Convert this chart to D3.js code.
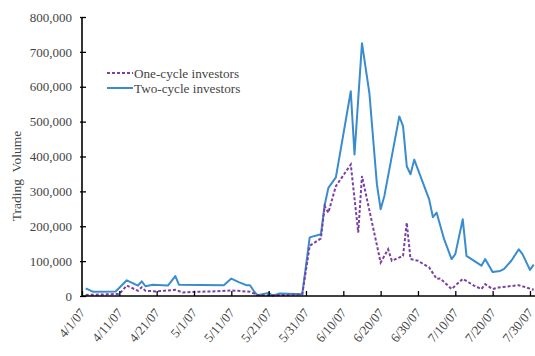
<!DOCTYPE html>
<html>
<head>
<meta charset="utf-8">
<script src="https://cdn.jsdelivr.net/npm/d3@7/dist/d3.min.js"></script>
<style>
  html, body { margin: 0; padding: 0; background: #fff; }
  svg { display: block; }
  text { font-family: "Liberation Serif", "Times New Roman", serif; fill: #444; }
</style>
</head>
<body>
<svg id="chart" width="535" height="356"></svg>
<script>
// Daily trading volume, April–July 2007
const twoCycleDates = [
  "2007-04-02","2007-04-04","2007-04-10","2007-04-13","2007-04-16","2007-04-17","2007-04-18","2007-04-20",
  "2007-04-24","2007-04-26","2007-04-27","2007-05-09","2007-05-11","2007-05-13","2007-05-15","2007-05-16",
  "2007-05-17","2007-05-18","2007-05-21","2007-05-22","2007-05-24","2007-05-30","2007-06-01","2007-06-04",
  "2007-06-05","2007-06-06","2007-06-07","2007-06-08","2007-06-09","2007-06-12","2007-06-13","2007-06-15",
  "2007-06-17","2007-06-19","2007-06-20","2007-06-21","2007-06-25","2007-06-26","2007-06-27","2007-06-28",
  "2007-06-29","2007-07-03","2007-07-04","2007-07-05","2007-07-07","2007-07-09","2007-07-10","2007-07-12",
  "2007-07-13","2007-07-17","2007-07-18","2007-07-20","2007-07-22","2007-07-23","2007-07-25","2007-07-27",
  "2007-07-28","2007-07-30","2007-07-31"
];
const twoCycleValues = [
  22000, 12000, 13000, 45000, 30000, 42000, 28000, 32000,
  30000, 57000, 32000, 31000, 50000, 40000, 31000, 31000,
  15000, 2000, 9000, 1000, 7000, 5000, 168000, 177000,
  260000, 310000, 325000, 340000, 401000, 587000, 406000, 725000,
  580000, 320000, 249000, 287000, 515000, 487000, 372000, 349000,
  391000, 277000, 226000, 239000, 163000, 106000, 120000, 220000,
  115000, 87000, 106000, 69000, 72000, 77000, 101000, 134000,
  120000, 75000, 90000
];

const oneCycleDates = [
  "2007-04-02","2007-04-11","2007-04-13","2007-04-16","2007-04-17","2007-04-18","2007-04-21","2007-04-23",
  "2007-04-26","2007-04-28","2007-05-01","2007-05-06","2007-05-11","2007-05-15","2007-05-16","2007-05-18",
  "2007-05-21","2007-05-26","2007-05-30","2007-06-01","2007-06-04","2007-06-05","2007-06-06","2007-06-08",
  "2007-06-12","2007-06-14","2007-06-15","2007-06-20","2007-06-22","2007-06-23","2007-06-26","2007-06-27",
  "2007-06-28","2007-06-30","2007-07-03","2007-07-05","2007-07-06","2007-07-09","2007-07-12","2007-07-15",
  "2007-07-17","2007-07-18","2007-07-20","2007-07-22","2007-07-27","2007-07-31"
];
const oneCycleValues = [
  3000, 6000, 30000, 15000, 25000, 15000, 13000, 15000,
  18000, 10000, 12000, 13000, 16000, 13000, 12000, 3000,
  2000, 3000, 5000, 144000, 165000, 258000, 239000, 315000,
  377000, 182000, 344000, 96000, 134000, 101000, 115000, 210000,
  106000, 101000, 82000, 49000, 50000, 20000, 49000, 30000,
  20000, 34000, 20000, 25000, 31000, 18000
];

const xTickDates = [
  "2007-04-01","2007-04-11","2007-04-21","2007-05-01","2007-05-11","2007-05-21","2007-05-31",
  "2007-06-10","2007-06-20","2007-06-30","2007-07-10","2007-07-20","2007-07-30"
];
const yTickValues = [0, 100000, 200000, 300000, 400000, 500000, 600000, 700000, 800000];

const seriesNames = ["One-cycle investors", "Two-cycle investors"];
const yAxisTitle = "Trading  Volume";

const parse = d3.timeParse("%Y-%m-%d");
const fmtDate = d3.timeFormat("%-m/%-d/%y");

const svg = d3.select("#chart");
const plotLeft = 82, plotTop = 17, plotBottom = 296;

const x = d3.scaleTime()
  .domain([parse("2007-04-01"), parse("2007-08-01")])
  .range([plotLeft, plotLeft + 122 * 3.733]);
const y = d3.scaleLinear().domain([0, 800000]).range([plotBottom, plotTop]);

const twoCycle = twoCycleDates.map((d, i) => ({ date: parse(d), value: twoCycleValues[i] }));
const oneCycle = oneCycleDates.map((d, i) => ({ date: parse(d), value: oneCycleValues[i] }));

const line = d3.line().x(d => x(d.date)).y(d => y(d.value));

// series
svg.append("path").datum(twoCycle)
  .attr("d", line).attr("fill", "none")
  .attr("stroke", "#3a8ccc").attr("stroke-width", 2).attr("stroke-linejoin", "round");
svg.append("path").datum(oneCycle)
  .attr("d", line).attr("fill", "none")
  .attr("stroke", "#7a40a6").attr("stroke-width", 2).attr("stroke-dasharray", "3,2");

// y axis
const yAxis = d3.axisLeft(y).tickValues(yTickValues).tickFormat(d3.format(",")).tickSize(0).tickPadding(10);
const gy = svg.append("g").attr("transform", `translate(${plotLeft},0)`).call(yAxis);
gy.select(".domain").remove();
gy.selectAll("text").style("font-size", "13px").attr("fill", "#444")
  .style("font-family", "'Liberation Serif', serif");
gy.selectAll(".tick").append("line").attr("x1", -2).attr("x2", 4).attr("stroke", "#000").attr("stroke-width", 1.3);
svg.append("line").attr("x1", plotLeft).attr("x2", plotLeft).attr("y1", plotTop).attr("y2", plotBottom)
  .attr("stroke", "#000").attr("stroke-width", 1.6);

// x axis
const xAxis = d3.axisBottom(x).tickValues(xTickDates.map(parse)).tickFormat(fmtDate).tickSize(0);
const gx = svg.append("g").attr("transform", `translate(0,${plotBottom})`).call(xAxis);
gx.select(".domain").remove();
gx.selectAll(".tick").append("line").attr("y1", 0).attr("y2", -5).attr("stroke", "#000").attr("stroke-width", 1.3);
gx.selectAll("text")
  .style("font-size", "13px").style("font-family", "'Liberation Serif', serif").attr("fill", "#444")
  .attr("text-anchor", "end").attr("dy", "0.35em").attr("y", 0)
  .attr("transform", "translate(0,14) rotate(-50)");
svg.append("line").attr("x1", plotLeft).attr("x2", 535).attr("y1", plotBottom).attr("y2", plotBottom)
  .attr("stroke", "#000").attr("stroke-width", 1.6);

// y axis title
svg.append("text")
  .attr("transform", "translate(21,176) rotate(-90)")
  .attr("text-anchor", "middle")
  .style("font-size", "13.5px").style("white-space", "pre")
  .text(yAxisTitle);

// legend
const legend = svg.append("g");
const legendItems = [
  { name: seriesNames[0], color: "#7a40a6", dash: "3,2", ly: 73 },
  { name: seriesNames[1], color: "#3a8ccc", dash: null, ly: 88 }
];
legendItems.forEach(it => {
  legend.append("line").attr("x1", 107).attr("x2", 133).attr("y1", it.ly).attr("y2", it.ly)
    .attr("stroke", it.color).attr("stroke-width", 2)
    .attr("stroke-dasharray", it.dash);
  legend.append("text").attr("x", 134).attr("y", it.ly).attr("dy", "0.35em")
    .style("font-size", "13.2px").text(it.name);
});
</script>
</body>
</html>
